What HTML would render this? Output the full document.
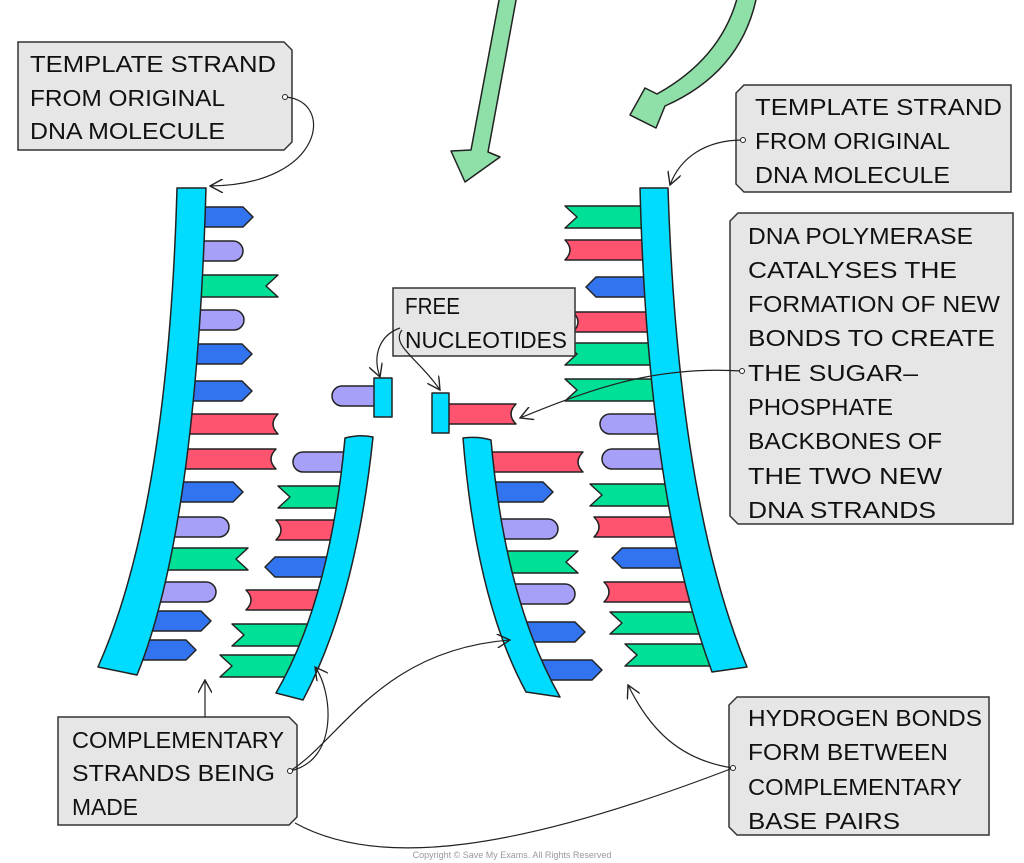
<!DOCTYPE html>
<html><head><meta charset="utf-8"><style>html,body{margin:0;padding:0;background:#fff}svg{display:block}</style></head>
<body>
<svg width="1024" height="863" viewBox="0 0 1024 863" xmlns="http://www.w3.org/2000/svg">
<defs>
<marker id="ah" viewBox="0 0 12 12" refX="11" refY="6" markerWidth="14" markerHeight="14" orient="auto" markerUnits="userSpaceOnUse"><path d="M0,0 L11,6 L0,12" fill="none" stroke="#222" stroke-width="1.2"/></marker>
</defs>
<g stroke="#222" stroke-width="1.5" stroke-linejoin="round">
<!-- green arrows -->
<path d="M500,-5 L517,-5 L488,152 L500,157 L465,182 L451,151 L471,150 Z" fill="#8fe0a8"/>
<path d="M738,-5 L757,-5 Q742,72 665,106 L656,128 L630,115 L645,88 L657,94 Q722,58 738,-5 Z" fill="#8fe0a8"/>

<!-- left template bases (right) -->
<path fill="#3273f0" d="M196,207 H243 L253,217 L243,227 H196 Z"/>
<path fill="#a6a0f8" d="M195,241 H233 A10,10 0 0 1 233,261 H195 Z"/>
<path fill="#00e096" d="M194,275 H278 L266,286 L278,297 H194 Z"/>
<path fill="#a6a0f8" d="M192,310 H234 A10,10 0 0 1 234,330 H192 Z"/>
<path fill="#3273f0" d="M190,344 H242 L252,354 L242,364 H190 Z"/>
<path fill="#3273f0" d="M188,381 H242 L252,391 L242,401 H188 Z"/>
<path fill="#ff5470" d="M184,414 H278 Q268,424 278,434 H184 Z"/>
<path fill="#ff5470" d="M180,449 H276 Q266,459 276,469 H180 Z"/>
<path fill="#3273f0" d="M175,482 H233 L243,492 L233,502 H175 Z"/>
<path fill="#a6a0f8" d="M168,517 H219 A10,10 0 0 1 219,537 H168 Z"/>
<path fill="#00e096" d="M160,548 H248 L236,559 L248,570 H160 Z"/>
<path fill="#a6a0f8" d="M153,582 H206 A10,10 0 0 1 206,602 H153 Z"/>
<path fill="#3273f0" d="M143,611 H201 L211,621 L201,631 H143 Z"/>
<path fill="#3273f0" d="M128,640 H186 L196,650 L186,660 H128 Z"/>

<!-- left new bases (left) -->
<path fill="#a6a0f8" d="M355,452 H303 A10,10 0 0 0 303,472 H355 Z"/>
<path fill="#00e096" d="M348,486 H278 L290,497 L278,508 H348 Z"/>
<path fill="#ff5470" d="M342,520 H276 Q286,530 276,540 H342 Z"/>
<path fill="#3273f0" d="M332,557 H275 L265,567 L275,577 H332 Z"/>
<path fill="#ff5470" d="M322,590 H246 Q256,600 246,610 H322 Z"/>
<path fill="#00e096" d="M315,624 H232 L244,635 L232,646 H315 Z"/>
<path fill="#00e096" d="M304,655 H220 L232,666 L220,677 H304 Z"/>

<!-- right template bases (left) -->
<path fill="#00e096" d="M651,206 H565 L577,217 L565,228 H651 Z"/>
<path fill="#ff5470" d="M651,240 H565 Q575,250 565,260 H651 Z"/>
<path fill="#3273f0" d="M652,277 H596 L586,287 L596,297 H652 Z"/>
<path fill="#ff5470" d="M653,312 H573 Q583,322 573,332 H653 Z"/>
<path fill="#00e096" d="M655,343 H565 L577,354 L565,365 H655 Z"/>
<path fill="#00e096" d="M658,379 H565 L577,390 L565,401 H658 Z"/>
<path fill="#a6a0f8" d="M662,414 H610 A10,10 0 0 0 610,434 H662 Z"/>
<path fill="#a6a0f8" d="M665,449 H612 A10,10 0 0 0 612,469 H665 Z"/>
<path fill="#00e096" d="M670,484 H590 L602,495 L590,506 H670 Z"/>
<path fill="#ff5470" d="M677,517 H594 Q604,527 594,537 H677 Z"/>
<path fill="#3273f0" d="M686,548 H622 L612,558 L622,568 H686 Z"/>
<path fill="#ff5470" d="M695,582 H604 Q614,592 604,602 H695 Z"/>
<path fill="#00e096" d="M702,612 H610 L622,623 L610,634 H702 Z"/>
<path fill="#00e096" d="M714,644 H625 L637,655 L625,666 H714 Z"/>

<!-- right new bases (right) -->
<path fill="#ff5470" d="M483,452 H583 Q573,462 583,472 H483 Z"/>
<path fill="#3273f0" d="M490,482 H543 L553,492 L543,502 H490 Z"/>
<path fill="#a6a0f8" d="M495,519 H548 A10,10 0 0 1 548,539 H495 Z"/>
<path fill="#00e096" d="M503,551 H578 L566,562 L578,573 H503 Z"/>
<path fill="#a6a0f8" d="M510,584 H565 A10,10 0 0 1 565,604 H510 Z"/>
<path fill="#3273f0" d="M520,622 H575 L585,632 L575,642 H520 Z"/>
<path fill="#3273f0" d="M535,660 H592 L602,670 L592,680 H535 Z"/>

<!-- free nucleotides -->
<path fill="#a6a0f8" d="M378,386 H342 A10,10 0 0 0 342,406 H378 Z"/>
<rect x="374" y="378" width="18" height="39" fill="#00dcff"/>
<path fill="#ff5470" d="M445,404 H516 Q506,414 516,424 H445 Z"/>
<rect x="432" y="393" width="17" height="40" fill="#00dcff"/>

<!-- backbones -->
<path fill="#00dcff" d="M177,188 L206,188 Q196,530 137,675 L98,667 Q168,510 177,188 Z"/>
<path fill="#00dcff" d="M345,438 Q360,434 373,437 Q356,600 303,700 L276,693 Q330,600 345,438 Z"/>
<path fill="#00dcff" d="M640,188 L668,188 Q678,500 747,667 L712,672 Q648,500 640,188 Z"/>
<path fill="#00dcff" d="M463,438 Q478,436 491,440 Q505,600 560,697 L526,692 Q476,600 463,438 Z"/>
</g>

<!-- boxes -->
<g fill="#e6e6e6" stroke="#333" stroke-width="1.5">
<polygon points="18,42 284,42 292,50 292,142 284,150 18,150"/>
<polygon points="744,85 1011,85 1011,192 744,192 736,184 736,93"/>
<polygon points="738,213 1013,213 1013,524 738,524 730,516 730,221"/>
<polygon points="393,288 575,288 575,356 393,356"/>
<polygon points="58,717 289,717 297,725 297,817 289,825 58,825"/>
<polygon points="737,697 989,697 989,835 737,835 729,827 729,705"/>
</g>

<!-- connectors -->
<g fill="none" stroke="#222" stroke-width="1.2">
<path d="M285,97 C335,100 325,185 210,186" marker-end="url(#ah)"/>
<path d="M743,140 C705,140 680,158 670,185" marker-end="url(#ah)"/>
<path d="M400,328 C380,335 372,355 380,377" marker-end="url(#ah)"/>
<path d="M402,330 C390,345 420,360 440,390" marker-end="url(#ah)"/>
<path d="M742,371 C660,366 600,385 520,418" marker-end="url(#ah)"/>
<path d="M290,771 C340,760 332,690 315,667" marker-end="url(#ah)"/>
<path d="M290,771 C340,740 380,650 510,640" marker-end="url(#ah)"/>
<path d="M205,717 L205,680" marker-end="url(#ah)"/>
<path d="M295,823 C380,870 520,850 733,768"/>
<path d="M733,768 C680,760 650,730 628,685" marker-end="url(#ah)"/>
</g>
<g fill="#fff" stroke="#222" stroke-width="1">
<circle cx="285" cy="97" r="2.5"/><circle cx="743" cy="140" r="2.5"/><circle cx="742" cy="371" r="2.5"/>
<circle cx="290" cy="771" r="2.5"/><circle cx="733" cy="768" r="2.5"/>
</g>

<g font-family="'Liberation Sans', sans-serif" font-size="23" fill="#111" lengthAdjust="spacingAndGlyphs">
<text x="30" y="72" textLength="246" lengthAdjust="spacingAndGlyphs">TEMPLATE  STRAND</text>
<text x="30" y="106" textLength="195" lengthAdjust="spacingAndGlyphs">FROM  ORIGINAL</text>
<text x="30" y="139" textLength="195" lengthAdjust="spacingAndGlyphs">DNA  MOLECULE</text>
<text x="755" y="115" textLength="247" lengthAdjust="spacingAndGlyphs">TEMPLATE  STRAND</text>
<text x="755" y="149" textLength="195" lengthAdjust="spacingAndGlyphs">FROM  ORIGINAL</text>
<text x="755" y="183" textLength="195" lengthAdjust="spacingAndGlyphs">DNA  MOLECULE</text>
<text x="748" y="244" textLength="225" lengthAdjust="spacingAndGlyphs">DNA  POLYMERASE</text>
<text x="748" y="278" textLength="209" lengthAdjust="spacingAndGlyphs">CATALYSES  THE</text>
<text x="748" y="312" textLength="252" lengthAdjust="spacingAndGlyphs">FORMATION  OF  NEW</text>
<text x="748" y="346" textLength="247" lengthAdjust="spacingAndGlyphs">BONDS  TO  CREATE</text>
<text x="748" y="381" textLength="170" lengthAdjust="spacingAndGlyphs">THE  SUGAR–</text>
<text x="748" y="415" textLength="145" lengthAdjust="spacingAndGlyphs">PHOSPHATE</text>
<text x="748" y="449" textLength="194" lengthAdjust="spacingAndGlyphs">BACKBONES  OF</text>
<text x="748" y="484" textLength="194" lengthAdjust="spacingAndGlyphs">THE  TWO  NEW</text>
<text x="748" y="518" textLength="188" lengthAdjust="spacingAndGlyphs">DNA  STRANDS</text>
<text x="405" y="314" textLength="55" lengthAdjust="spacingAndGlyphs">FREE</text>
<text x="405" y="348" textLength="162" lengthAdjust="spacingAndGlyphs">NUCLEOTIDES</text>
<text x="72" y="748" textLength="212" lengthAdjust="spacingAndGlyphs">COMPLEMENTARY</text>
<text x="72" y="781" textLength="203" lengthAdjust="spacingAndGlyphs">STRANDS  BEING</text>
<text x="72" y="815" textLength="66" lengthAdjust="spacingAndGlyphs">MADE</text>
<text x="748" y="726" textLength="234" lengthAdjust="spacingAndGlyphs">HYDROGEN  BONDS</text>
<text x="748" y="760" textLength="200" lengthAdjust="spacingAndGlyphs">FORM  BETWEEN</text>
<text x="748" y="795" textLength="214" lengthAdjust="spacingAndGlyphs">COMPLEMENTARY</text>
<text x="748" y="829" textLength="152" lengthAdjust="spacingAndGlyphs">BASE  PAIRS</text>
</g>
<text x="512" y="858" text-anchor="middle" font-family="'Liberation Sans', sans-serif" font-size="9" fill="#999">Copyright © Save My Exams. All Rights Reserved</text>
</svg>
</body></html>
